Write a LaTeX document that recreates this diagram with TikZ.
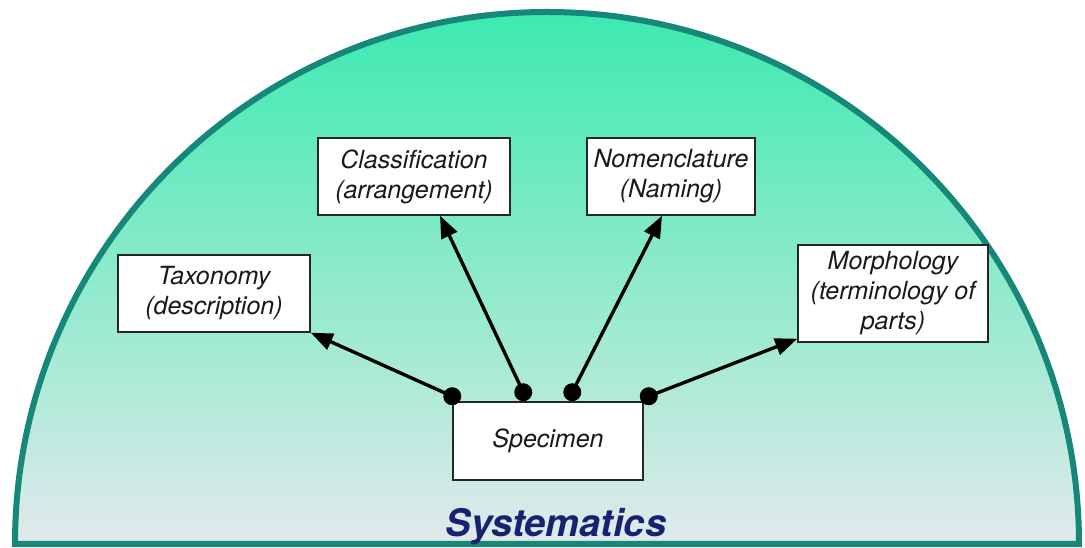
\documentclass[tikz,border=0pt]{standalone}
\usepackage{fontspec}
\setmainfont{TeX Gyre Heros}
\usepackage{tikz}
\usetikzlibrary{arrows.meta, positioning, calc}
\definecolor{domeline}{RGB}{22,135,120}
\definecolor{mint}{RGB}{60,234,176}
\definecolor{mintmid}{RGB}{100,233,190}
\definecolor{domebase}{RGB}{224,234,234}
\definecolor{navy}{RGB}{28,32,112}
\definecolor{inkc}{RGB}{25,25,25}

\begin{document}
\begin{tikzpicture}[x=1pt,y=1pt,
  topic/.style={draw=black!85,line width=1.5pt,fill=white,minimum height=77pt,
    align=center,text=inkc,inner sep=4pt,
    font=\fontsize{25}{30}\selectfont\itshape},
  link/.style={-{Triangle[length=22pt,width=17pt]},line width=3.4pt}]
  \useasboundingbox (0,0) rectangle (1085,548);
  % dome with gradient
  \shade[top color=mint, middle color=mintmid, bottom color=domebase]
    (15,4) arc[start angle=180,end angle=0,radius=532] -- cycle;
  \draw[domeline,line width=6pt] (15,4) arc[start angle=180,end angle=0,radius=532] -- cycle;
  % topic boxes
  \node[topic,minimum width=192pt] (tax) at (214,254.5) {Taxonomy\\(description)};
  \node[topic,minimum width=192pt] (cls) at (414,371.5) {Classification\\(arrangement)};
  \node[topic,minimum width=168pt] (nom) at (671,371.5) {Nomenclature\\(Naming)};
  \node[topic,minimum width=190pt,minimum height=97pt] (morph) at (893,254.5)
    {Morphology\\(terminology of\\parts)};
  \node[topic,minimum width=190pt,minimum height=78pt] (spec) at (548,107) {Specimen};
  % title
  \node[anchor=base,text=navy,font=\fontsize{38}{40}\selectfont\bfseries\itshape]
    (sys) at (556,11) {Systematics};
  % dots on the specimen box
  \coordinate (d1) at ([yshift=5pt]spec.north west);
  \coordinate (d2) at ([xshift=71pt,yshift=9pt]spec.north west);
  \coordinate (d3) at ([xshift=120pt,yshift=9pt]spec.north west);
  \coordinate (d4) at ([xshift=5pt,yshift=5pt]spec.north east);
  % arrows
  \draw[link] (d1) -- (tax.south east);
  \draw[link] (d2) -- ([xshift=26pt]cls.south);
  \draw[link] (d3) -- ([xshift=-9pt]nom.south);
  \draw[link] (d4) -- ([yshift=4pt]morph.south west);
  \foreach \d in {d1,d2,d3,d4} \fill (\d) circle (9pt);
\end{tikzpicture}
\end{document}
